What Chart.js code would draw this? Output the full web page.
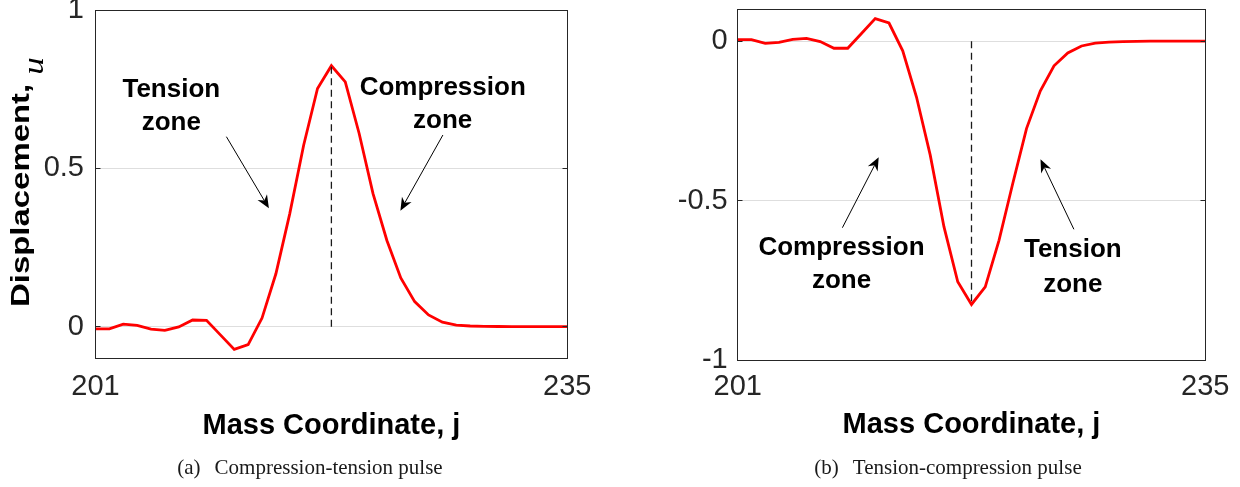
<!DOCTYPE html>
<html><head><meta charset="utf-8">
<script src="https://cdn.jsdelivr.net/npm/chart.js@4.4.1/dist/chart.umd.min.js"></script>
<style>
html,body{margin:0;padding:0;background:#fff;}
body{width:1240px;height:487px;overflow:hidden;position:relative;}
canvas{position:absolute;}
#cA{left:0;top:-20px;}
#cB{left:620px;top:-20px;}
.cap{position:absolute;top:457px;font-family:"Liberation Serif","Times New Roman",serif;font-size:21px;line-height:21px;color:#1a1a1a;white-space:nowrap;transform:translateX(-50%);}
</style></head><body>
<canvas id="cA" width="620" height="527"></canvas>
<canvas id="cB" width="620" height="527"></canvas>
<div class="cap" style="left:310px"><span>(a)</span><span style="margin-left:14px">Compression-tension pulse</span></div>
<div class="cap" style="left:948px"><span>(b)</span><span style="margin-left:14px">Tension-compression pulse</span></div>
<script>
// ---- data ----
const massCoordinate = [201,202,203,204,205,206,207,208,209,210,211,212,213,214,215,216,217,218,219,220,221,222,223,224,225,226,227,228,229,230,231,232,233,234,235];
const displacementA = [-0.007,-0.007,0.008,0.004,-0.008,-0.012,-0.001,0.021,0.020,-0.026,-0.072,-0.057,0.027,0.167,0.357,0.573,0.752,0.824,0.773,0.610,0.420,0.272,0.154,0.079,0.037,0.014,0.005,0.002,0.001,0.0005,0,0,0,0,0];
const displacementB = [0.005,0.005,-0.007,-0.004,0.006,0.009,-0.001,-0.022,-0.022,0.024,0.071,0.057,-0.030,-0.175,-0.357,-0.582,-0.754,-0.825,-0.770,-0.624,-0.446,-0.274,-0.156,-0.077,-0.037,-0.015,-0.006,-0.003,-0.001,-0.0005,0,0,0,0,0];
const peakCoordinate = 218;
const xTickValues = [201, 235];
const xTickLabels = ['201', '235'];
const yTickValuesA = [0, 0.5, 1];
const yTickLabelsA = ['0', '0.5', '1'];
const yTickValuesB = [-1, -0.5, 0];
const yTickLabelsB = ['-1', '-0.5', '0'];
const xAxisTitle = 'Mass Coordinate, j';
const yAxisTitleText = 'Displacement, ';
const yAxisTitleSymbol = 'u';
const zoneTextA = [['Tension', 'zone'], ['Compression', 'zone']];
const zoneTextB = [['Compression', 'zone'], ['Tension', 'zone']];

// ---- helpers ----
const SANS = '"Liberation Sans", Arial, Helvetica, sans-serif';
const W = 620, H = 527, OFFY = 20;

function drawArrow(ctx, x1, y1, x2, y2) {
  const ang = Math.atan2(y2 - y1, x2 - x1);
  const ux = Math.cos(ang), uy = Math.sin(ang), px = -uy, py = ux;
  const L = 13, HW = 5.5, N = 9;
  ctx.beginPath(); ctx.moveTo(x1, y1); ctx.lineTo(x2 - ux * N, y2 - uy * N); ctx.stroke();
  ctx.beginPath();
  ctx.moveTo(x2, y2);
  ctx.lineTo(x2 - ux * L + px * HW, y2 - uy * L + py * HW);
  ctx.lineTo(x2 - ux * N, y2 - uy * N);
  ctx.lineTo(x2 - ux * L - px * HW, y2 - uy * L - py * HW);
  ctx.closePath(); ctx.fill();
}

const decor = {
  id: 'decor',
  afterDraw(chart, args, o) {
    const { ctx, chartArea: a, scales: { y } } = chart;
    ctx.save();
    const L = Math.floor(a.left) + 0.5, R = Math.floor(a.right) + 0.5;
    const T = Math.floor(a.top) + 0.5, B = Math.floor(a.bottom) + 0.5;
    ctx.strokeStyle = '#262626'; ctx.lineWidth = 1;
    for (const v of o.yTicks) {
      const py = Math.floor(y.getPixelForValue(v)) + 0.5;
      ctx.beginPath(); ctx.moveTo(L, py); ctx.lineTo(L + 5, py);
      ctx.moveTo(R, py); ctx.lineTo(R - 5, py); ctx.stroke();
    }
    ctx.strokeRect(L, T, R - L, B - T);
    ctx.fillStyle = '#000'; ctx.strokeStyle = '#000'; ctx.lineWidth = 1;
    ctx.font = 'bold 26px ' + SANS; ctx.textAlign = 'center'; ctx.textBaseline = 'alphabetic';
    for (const n of o.notes) {
      n.lines.forEach((t, i) => ctx.fillText(t, n.cx - o.offX, n.base[i] + OFFY));
    }
    for (const ar of o.arrows) drawArrow(ctx, ar[0] - o.offX, ar[1] + OFFY, ar[2] - o.offX, ar[3] + OFFY);
    if (o.yTitle) {
      ctx.save();
      ctx.translate(29, 182 + OFFY);
      ctx.rotate(-Math.PI / 2);
      const f1 = 'bold 28px ' + SANS, f2 = 'italic 30px "Liberation Serif", "Times New Roman", serif';
      ctx.font = f1; const w1 = ctx.measureText(yAxisTitleText).width;
      ctx.font = f2; const w2 = ctx.measureText(yAxisTitleSymbol).width;
      const total = w1 + w2;
      ctx.scale(250 / total, 0.95);
      ctx.textAlign = 'left'; ctx.textBaseline = 'alphabetic';
      ctx.font = f1; ctx.fillText(yAxisTitleText, -total / 2, 0);
      ctx.font = f2; ctx.fillText(yAxisTitleSymbol, -total / 2 + w1, 15);
      ctx.restore();
    }
    ctx.restore();
  }
};

function makeChart(id, p) {
  const pts = massCoordinate.map((j, i) => ({ x: j, y: p.values[i] }));
  const peakVal = p.values[massCoordinate.indexOf(peakCoordinate)];
  return new Chart(document.getElementById(id), {
    type: 'line',
    data: {
      datasets: [
        { data: pts, borderColor: '#ff0000', borderWidth: 2.8, pointRadius: 0, tension: 0, borderJoinStyle: 'miter', fill: false, order: 2 },
        { data: [{ x: peakCoordinate, y: 0 }, { x: peakCoordinate, y: peakVal }], borderColor: '#1a1a1a', borderWidth: 1.3, borderDash: [7, 4.5], pointRadius: 0, fill: false, order: 1 }
      ]
    },
    options: {
      responsive: false, animation: false, devicePixelRatio: 1, events: [],
      layout: { padding: { left: 0, top: p.area.top, right: W - p.area.right, bottom: 0 } },
      plugins: { legend: { display: false }, tooltip: { enabled: false }, decor: p.decor },
      scales: {
        x: {
          type: 'linear', min: 201, max: 235,
          afterBuildTicks: s => { s.ticks = xTickValues.map(v => ({ value: v })); },
          afterFit: s => { s.height = H - p.area.bottom; },
          grid: { display: false, drawTicks: false },
          border: { display: false },
          ticks: { padding: p.xTickPad, maxRotation: 0, autoSkip: false, color: '#262626', font: { family: SANS, size: 29 },
            callback: (v) => xTickLabels[xTickValues.indexOf(v)] },
          title: { display: true, text: xAxisTitle, color: '#000', font: { family: SANS, size: 29, weight: 'bold' }, padding: { top: 0, bottom: p.titlePad } }
        },
        y: {
          type: 'linear', min: p.yMin, max: p.yMax,
          afterBuildTicks: s => { s.ticks = p.yTicks.map(v => ({ value: v })); },
          afterFit: s => { s.width = p.area.left; },
          grid: { color: '#dedede', lineWidth: 1, drawTicks: false },
          border: { display: false },
          ticks: { padding: p.yTickPad, autoSkip: false, color: '#262626', font: { family: SANS, size: 29 },
            callback: (v) => p.yLabels[p.yTicks.indexOf(v)] }
        }
      }
    },
    plugins: [decor]
  });
}

makeChart('cA', {
  values: displacementA, yMin: -0.1, yMax: 1, yTicks: yTickValuesA, yLabels: yTickLabelsA,
  area: { left: 95.5, right: 567.3, top: 30, bottom: 378.3 },
  xTickPad: 11.3, yTickPad: 11.5, titlePad: 63.6,
  decor: {
    offX: 0, yTicks: yTickValuesA, yTitle: true,
    notes: [
      { lines: zoneTextA[0], cx: 171.3, base: [96.7, 130] },
      { lines: zoneTextA[1], cx: 442.7, base: [95, 128.3] }
    ],
    arrows: [[226.4, 136.7, 268.9, 208.3], [442.9, 135, 400.4, 210.7]]
  }
});

makeChart('cB', {
  values: displacementB, yMin: -1, yMax: 0.1, yTicks: yTickValuesB, yLabels: yTickLabelsB,
  area: { left: 117.7, right: 585.3, top: 29.3, bottom: 380.3 },
  xTickPad: 9.3, yTickPad: 10, titlePad: 64.6,
  decor: {
    offX: 620, yTicks: yTickValuesB, yTitle: false,
    notes: [
      { lines: zoneTextB[0], cx: 841.5, base: [255, 288.3] },
      { lines: zoneTextB[1], cx: 1072.8, base: [256.7, 291.7] }
    ],
    arrows: [[842.4, 227.7, 878.7, 157.3], [1073.9, 229.3, 1040.5, 159.3]]
  }
});
</script>
</body></html>
